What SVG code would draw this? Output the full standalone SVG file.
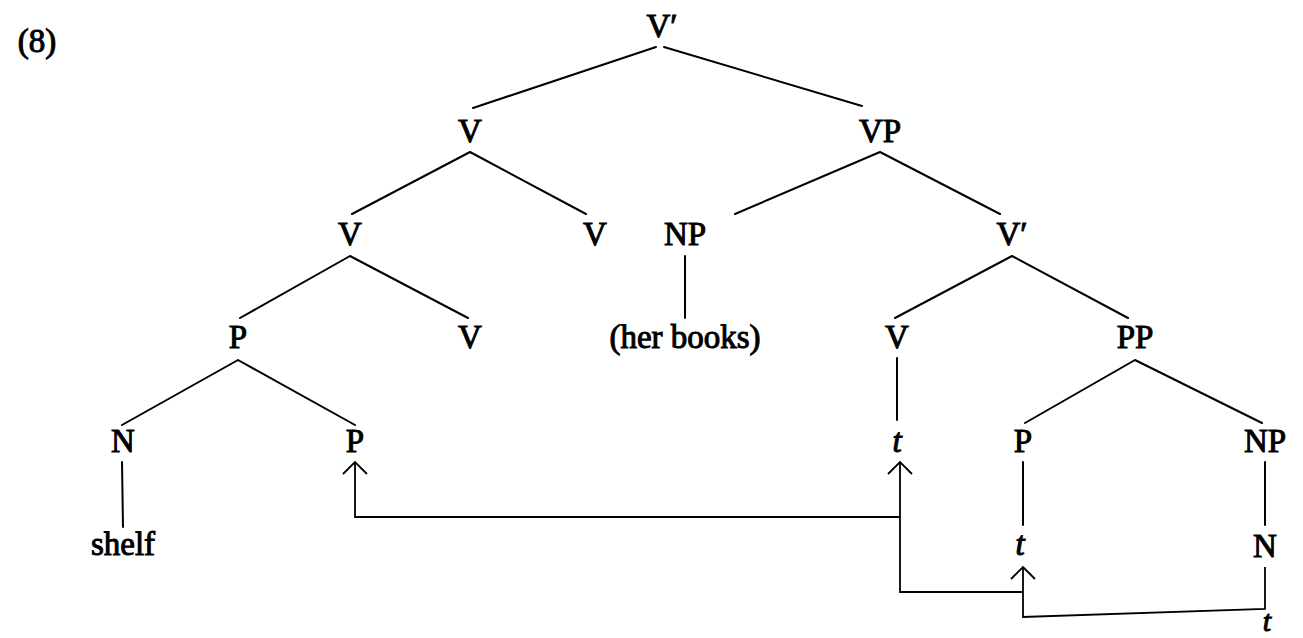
<svg xmlns="http://www.w3.org/2000/svg" width="1303" height="638" viewBox="0 0 1303 638">
<style>
text{font-family:"Liberation Serif","Times New Roman",serif;font-size:33px;fill:#000;text-anchor:middle;stroke:#000;stroke-width:1px}
.it{font-style:italic}
.e{stroke:#000;stroke-width:2;fill:none;stroke-linecap:round}
.m{stroke:#000;stroke-width:1.8;fill:none}
</style>
<rect width="1303" height="638" fill="#fff"/>
<text x="37" y="52">(8)</text>
<g id="n-vbar-top"><text x="662" y="37">V′</text></g>
<g id="n-v1"><text x="470" y="142">V</text></g>
<g id="n-vp"><text x="880" y="142">VP</text></g>
<g id="n-v2a"><text x="350" y="245">V</text></g>
<g id="n-v2b"><text x="595" y="245">V</text></g>
<g id="n-np1"><text x="685" y="245">NP</text></g>
<g id="n-vbar2"><text x="1012" y="245">V′</text></g>
<g id="n-p3"><text x="238" y="348">P</text></g>
<g id="n-v3"><text x="470" y="348">V</text></g>
<g id="n-herbooks"><text x="685" y="348">(her books)</text></g>
<g id="n-v3b"><text x="897" y="348">V</text></g>
<g id="n-pp"><text x="1135" y="348">PP</text></g>
<g id="n-n4"><text x="123" y="452">N</text></g>
<g id="n-p4"><text x="355" y="452">P</text></g>
<g id="n-t4"><text class="it" x="897" y="452">t</text></g>
<g id="n-p4b"><text x="1023" y="452">P</text></g>
<g id="n-np4"><text x="1265" y="452">NP</text></g>
<g id="n-shelf"><text x="123" y="555">shelf</text></g>
<g id="n-t5"><text class="it" x="1020" y="555">t</text></g>
<g id="n-n5"><text x="1265" y="557">N</text></g>
<g id="n-t6"><text class="it" x="1267" y="631" style="font-size:30px">t</text></g>
<g id="connectors">
<path class="e" d="M656 47 L473 108 M664 47 L862 106"/>
<path class="e" d="M470 152 L352 214 M470 152 L586 214"/>
<path class="e" d="M880 152 L735 214 M880 152 L1000 214"/>
<path class="e" d="M350 256 L240 318 M350 256 L468 318"/>
<path class="e" d="M685 256 L685 318"/>
<path class="e" d="M1012 256 L895 318 M1012 256 L1128 318"/>
<path class="e" d="M238 360 L122 425 M238 360 L355 425"/>
<path class="e" d="M897 358 L897 420"/>
<path class="e" d="M1135 360 L1025 423 M1135 360 L1262 423"/>
<path class="e" d="M122 462 L123 527"/>
<path class="e" d="M1023 462 L1023 525"/>
<path class="e" d="M1265 462 L1265 525"/>
<path class="m" d="M1265 567 L1265 609 L1023 617 L1023 567"/>
<path class="m" d="M1023 592 L900 592 L900 462"/>
<path class="m" d="M900 517 L355 517 L355 462"/>
<path class="m" d="M343 474 L355 462 L367 474 M888 474 L900 462 L912 474 M1011 579 L1023 567 L1035 579"/>
</g>
</svg>
